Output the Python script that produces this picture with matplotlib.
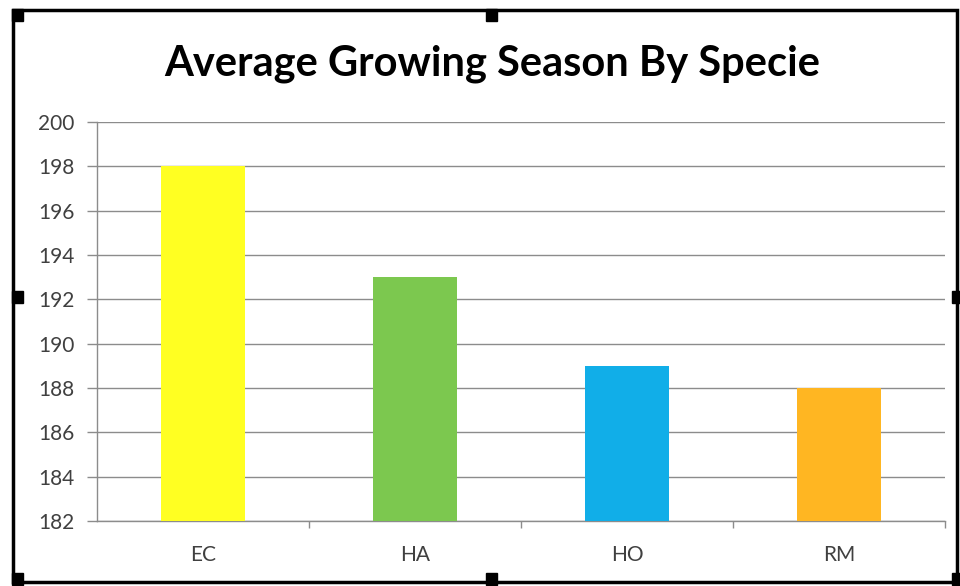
import matplotlib.pyplot as plt
from matplotlib.patches import Rectangle

species = ["EC", "HA", "HO", "RM"]
season_days = [198, 193, 189, 188]
bar_colors = ["#FFFF22", "#7CC84F", "#11AEE8", "#FFB622"]
y_ticks = list(range(182, 201, 2))

W, H = 960, 586


def fx(px):
    return px / W


def fy(py):
    return 1 - py / H


def main():
    plt.rcParams['font.family'] = ['Lato', 'DejaVu Sans']

    fig = plt.figure(figsize=(9.6, 5.86), dpi=100)
    ax = fig.add_axes([fx(97), fy(521), fx(945) - fx(97), fy(122) - fy(521)])

    x = range(len(species))
    ax.bar(x, [v - 182 for v in season_days], bottom=182, width=0.4,
           color=bar_colors, zorder=3)

    ax.set_xlim(-0.5, len(species) - 0.5)
    ax.set_ylim(182, 200)
    ax.set_yticks(y_ticks)
    ax.set_xticks(list(x))
    ax.set_xticklabels(species)
    ax.set_xticks([i + 0.5 for i in x], minor=True)

    grid_col = "#8C8C8C"
    ax.yaxis.grid(True, color=grid_col, linewidth=1, zorder=0)
    ax.tick_params(axis='y', length=7, width=1, color=grid_col,
                   labelsize=15, labelcolor="#404040", pad=9)
    ax.tick_params(axis='x', which='major', length=0, labelsize=15,
                   labelcolor="#404040", pad=17)
    ax.tick_params(axis='x', which='minor', length=5, width=1,
                   color=grid_col, direction='out')

    for side in ['top', 'right']:
        ax.spines[side].set_visible(False)
    for side in ['left', 'bottom']:
        ax.spines[side].set_color(grid_col)
        ax.spines[side].set_linewidth(1)

    fig.text(fx(492), fy(64), "Average Growing Season By Specie",
             ha='center', va='center', fontsize=30, fontweight='bold',
             color="#000000")

    # chart frame with selection handles
    fig.patches.append(Rectangle((fx(13), fy(582)), fx(957) - fx(13),
                                 fy(10) - fy(582), transform=fig.transFigure,
                                 fill=False, edgecolor='black', linewidth=2.5))
    handles = [(12, 9), (486, 9), (12, 291), (12, 573), (486, 573),
               (952, 291), (952, 573)]
    for hx, hy in handles:
        fig.patches.append(Rectangle((fx(hx), fy(hy + 12)), fx(11), fy(0) - fy(12),
                                     transform=fig.transFigure,
                                     color='black'))

    fig.savefig("out.png", dpi=100)


if __name__ == '__main__':
    main()
